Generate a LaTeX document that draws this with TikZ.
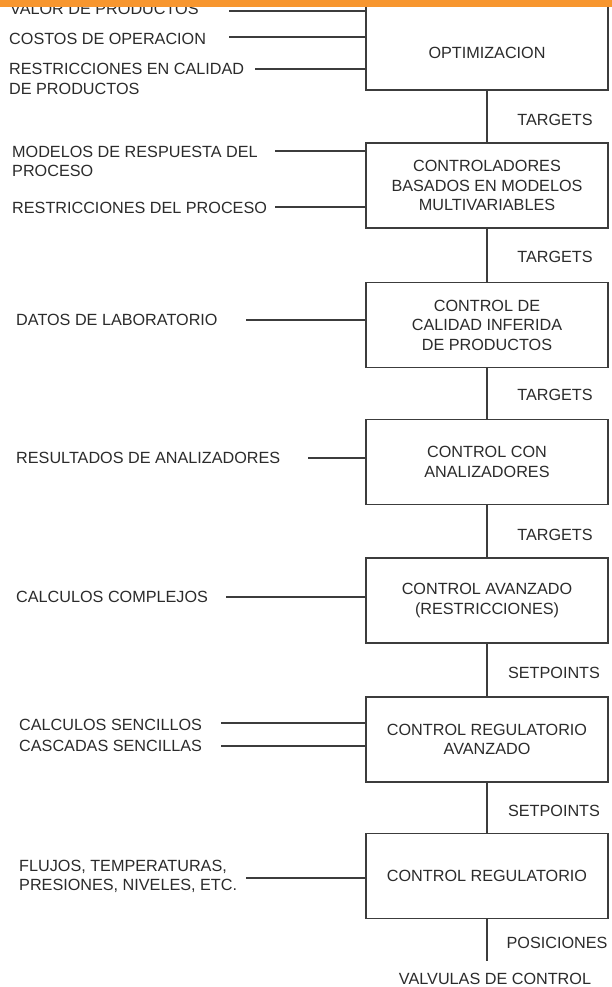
\documentclass[tikz,border=0pt]{standalone}
\usepackage{fontspec}
\setmainfont{Liberation Sans}
\definecolor{txt}{HTML}{2B2B2B}
\definecolor{ln}{HTML}{3C3C3C}
\definecolor{bar}{HTML}{F7962F}
\begin{document}
\begin{tikzpicture}[x=1pt,y=-1pt,
 every node/.style={font=\fontsize{16.2}{19.5}\selectfont, text=txt},
 blk/.style={draw=ln, line width=1.8pt, minimum width=242pt, minimum height=85pt, inner sep=0pt, align=center},
 lbl/.style={anchor=west, inner sep=0pt, align=left},
 tag/.style={inner sep=0pt},
 wire/.style={draw=ln, line width=1.5pt}]
\useasboundingbox (0,0) rectangle (612,987);
\fill[white] (0,0) rectangle (612,987);

% boxes
\node[blk, minimum height=100pt] (box1) at (487,40) {};
\node[tag] (opt) at (487,53) {OPTIMIZACION};
\node[blk] (box2) at (487,185.5) {CONTROLADORES\\BASADOS EN MODELOS\\MULTIVARIABLES};
\node[blk] (box3) at (487,325) {CONTROL DE\\CALIDAD INFERIDA\\DE PRODUCTOS};
\node[blk] (box4) at (487,462) {CONTROL CON\\ANALIZADORES};
\node[blk] (box5) at (487,600.5) {CONTROL AVANZADO\\(RESTRICCIONES)};
\node[blk] (box6) at (487,739.5) {CONTROL REGULATORIO\\AVANZADO};
\node[blk] (box7) at (487,876) {CONTROL REGULATORIO};

% vertical connectors
\draw[wire] (box1) -- (box2);
\draw[wire] (box2) -- (box3);
\draw[wire] (box3) -- (box4);
\draw[wire] (box4) -- (box5);
\draw[wire] (box5) -- (box6);
\draw[wire] (box6) -- (box7);
\coordinate (vend) at (487,961);
\draw[wire] (box7) -- (vend);

% connector labels
\node[tag] (t1) at (555,120) {TARGETS};
\node[tag] (t2) at (555,257) {TARGETS};
\node[tag] (t3) at (555,395) {TARGETS};
\node[tag] (t4) at (555,535) {TARGETS};
\node[tag] (s1) at (554,673) {SETPOINTS};
\node[tag] (s2) at (554,811) {SETPOINTS};
\node[tag] (p1) at (557,943) {POSICIONES};
\node[tag] (valv) at (495,978.5) {VALVULAS DE CONTROL};

% left inputs
\node[lbl] (i1) at (10,9) {VALOR DE PRODUCTOS};
\node[lbl] (i2) at (9,39) {COSTOS DE OPERACION};
\node[lbl] (i3) at (9,79) {RESTRICCIONES EN CALIDAD\\DE PRODUCTOS};
\node[lbl] (i4) at (12,161.5) {MODELOS DE RESPUESTA DEL\\PROCESO};
\node[lbl] (i5) at (12,208) {RESTRICCIONES DEL PROCESO};
\node[lbl] (i6) at (16,320) {DATOS DE LABORATORIO};
\node[lbl] (i7) at (16,458) {RESULTADOS DE ANALIZADORES};
\node[lbl] (i8) at (16,597) {CALCULOS COMPLEJOS};
\node[lbl] (i9) at (19,725) {CALCULOS SENCILLOS};
\node[lbl] (i10) at (19,746) {CASCADAS SENCILLAS};
\node[lbl] (i11) at (19,876.5) {FLUJOS, TEMPERATURAS,\\PRESIONES, NIVELES, ETC.};

\coordinate (c1) at (229,11);
\coordinate (c2) at (229,37);
\coordinate (c3) at (255,69);
\coordinate (c4) at (275,151);
\coordinate (c5) at (275,207);
\coordinate (c6) at (246,320);
\coordinate (c7) at (308,458);
\coordinate (c8) at (226,597);
\coordinate (c9) at (221,723);
\coordinate (c10) at (221,746);
\coordinate (c11) at (246,878);

\draw[wire] (c1) -- (c1 -| box1.west);
\draw[wire] (c2) -- (c2 -| box1.west);
\draw[wire] (c3) -- (c3 -| box1.west);
\draw[wire] (c4) -- (c4 -| box2.west);
\draw[wire] (c5) -- (c5 -| box2.west);
\draw[wire] (c6) -- (c6 -| box3.west);
\draw[wire] (c7) -- (c7 -| box4.west);
\draw[wire] (c8) -- (c8 -| box5.west);
\draw[wire] (c9) -- (c9 -| box6.west);
\draw[wire] (c10) -- (c10 -| box6.west);
\draw[wire] (c11) -- (c11 -| box7.west);

% top bar
\fill[bar] (0,0) rectangle (612,7);
\end{tikzpicture}
\end{document}
